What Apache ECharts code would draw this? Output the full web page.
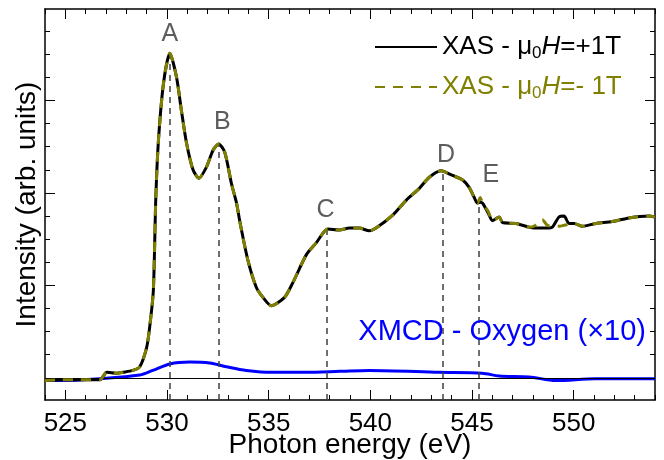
<!DOCTYPE html>
<html>
<head>
<meta charset="utf-8">
<script src="https://cdn.jsdelivr.net/npm/echarts@6/dist/echarts.min.js"></script>
<style>
  html, body { margin: 0; padding: 0; background: #fff; }
  #main { width: 664px; height: 460px; }
</style>
</head>
<body>
<div id="main"></div>
<script>
// XAS data
var energy = [524.0, 524.8, 525.6, 526.7, 527.04, 527.53, 527.83, 528.32, 528.66, 529.0, 529.17, 529.33, 529.45, 529.58, 529.83, 530.14, 530.47, 530.71, 530.96, 531.28, 531.57, 531.94, 532.26, 532.54, 532.84, 533.17, 533.41, 533.6, 533.98, 534.39, 534.72, 535.13, 535.78, 536.19, 536.85, 537.34, 537.91, 538.48, 538.97, 539.46, 539.95, 540.28, 541.1, 541.76, 542.41, 542.9, 543.47, 544.04, 544.54, 544.86, 545.11, 545.27, 545.4, 545.52, 545.8, 546.01, 546.34, 546.5, 547.16, 547.81, 548.05, 548.46, 548.7, 548.95, 549.28, 549.53, 549.77, 550.02, 550.43, 551.08, 551.9, 552.72, 553.7, 554.0];
var xasPlus = [-0.03, -0.02, -0.02, -0.02, 0.06, 0.05, 0.06, 0.08, 0.12, 0.33, 0.59, 0.95, 1.95, 2.57, 3.19, 3.51, 3.25, 2.89, 2.54, 2.25, 2.16, 2.28, 2.46, 2.53, 2.44, 2.1, 1.9, 1.67, 1.27, 0.98, 0.87, 0.78, 0.87, 1.03, 1.33, 1.46, 1.61, 1.6, 1.62, 1.62, 1.59, 1.62, 1.76, 1.92, 2.05, 2.17, 2.24, 2.19, 2.14, 2.06, 1.95, 1.89, 1.9, 1.89, 1.78, 1.7, 1.74, 1.68, 1.67, 1.63, 1.62, 1.62, 1.62, 1.63, 1.74, 1.75, 1.67, 1.67, 1.64, 1.67, 1.69, 1.73, 1.75, 1.74];
var xasMinus = [-0.03, -0.02, -0.02, -0.02, 0.06, 0.05, 0.06, 0.08, 0.12, 0.33, 0.59, 0.95, 1.95, 2.57, 3.19, 3.51, 3.25, 2.89, 2.54, 2.25, 2.16, 2.28, 2.46, 2.53, 2.44, 2.1, 1.9, 1.67, 1.27, 0.98, 0.87, 0.78, 0.87, 1.03, 1.33, 1.46, 1.61, 1.6, 1.62, 1.62, 1.59, 1.62, 1.76, 1.92, 2.05, 2.17, 2.24, 2.19, 2.14, 2.06, 1.95, 1.89, 1.95, 1.89, 1.8, 1.7, 1.74, 1.68, 1.67, 1.63, 1.64, 1.71, 1.65, 1.64, 1.64, 1.65, 1.66, 1.67, 1.64, 1.67, 1.69, 1.73, 1.75, 1.74];

// XMCD (x10)
var energyMcd = [524.0, 524.74, 526.7, 528.66, 529.3, 530.14, 531.12, 532.1, 532.92, 533.9, 535.19, 536.85, 538.48, 539.95, 543.39, 545.5, 546.34, 547.81, 549.12, 551.08, 554.0];
var xmcd = [-0.02, -0.03, -0.01, 0.03, 0.08, 0.15, 0.17, 0.16, 0.12, 0.08, 0.06, 0.06, 0.07, 0.08, 0.06, 0.05, 0.02, 0.01, -0.03, -0.01, -0.01];

// peaks
var peakNames = ['A', 'B', 'C', 'D', 'E'];
var peakEnergy = [530.14, 532.54, 537.88, 543.54, 545.35];
var peakTop = [3.51, 2.53, 1.61, 2.24, 1.92];
var labelEnergy = [530.14, 532.72, 537.8, 543.72, 545.93];
var labelY = [3.72, 2.77, 1.81, 2.41, 2.19];

// axes
var xMin = 524, xMax = 554;
var yMin = -0.24, yMax = 3.99;
var xMajor = [525, 530, 535, 540, 545, 550];
var xMinor = [];
for (var v = 524; v <= 554; v++) if (v % 5 !== 0) xMinor.push(v);
var yMajor = [0, 1, 2, 3];
var yMinor = [0.25, 0.5, 0.75, 1.25, 1.5, 1.75, 2.25, 2.5, 2.75, 3.25, 3.5, 3.75];

var FONT = 'Liberation Sans, Arial, sans-serif';

function pairs(xs, ys) {
    var out = [];
    for (var i = 0; i < xs.length; i++) out.push([xs[i], ys[i]]);
    return out;
}

function xAx(pos, ticks, len, main) {
    return {
        type: 'value', position: pos, min: xMin, max: xMax,
        axisLine: { show: main, onZero: false, lineStyle: { color: '#000', width: 1.5 } },
        axisTick: { show: true, inside: true, length: len, customValues: ticks, lineStyle: { color: '#000', width: 1 } },
        axisLabel: main && pos === 'bottom'
            ? { show: true, customValues: xMajor, fontSize: 26, color: '#000', fontFamily: FONT, margin: 11 }
            : { show: false },
        splitLine: { show: false },
        name: main && pos === 'bottom' ? 'Photon energy (eV)' : '',
        nameLocation: 'middle', nameGap: 31, nameMoveOverlap: false,
        nameTextStyle: { fontSize: 28, color: '#000', fontFamily: FONT }
    };
}

function yAx(pos, ticks, len, main) {
    return {
        type: 'value', position: pos, min: yMin, max: yMax,
        axisLine: { show: main, onZero: false, lineStyle: { color: '#000', width: 1.5 } },
        axisTick: { show: true, inside: true, length: len, customValues: ticks, lineStyle: { color: '#000', width: 1 } },
        axisLabel: { show: false },
        splitLine: { show: false },
        name: main && pos === 'left' ? 'Intensity (arb. units)' : '',
        nameLocation: 'middle', nameGap: 4,
        nameTextStyle: { fontSize: 28, color: '#000', fontFamily: FONT }
    };
}

var vlines = [];
for (var i = 0; i < peakNames.length; i++) {
    vlines.push([{ coord: [peakEnergy[i], yMin] }, { coord: [peakEnergy[i], peakTop[i]] }]);
}
var labels = [];
for (var j = 0; j < peakNames.length; j++) {
    labels.push({ name: peakNames[j], value: [labelEnergy[j], labelY[j]] });
}

var myChart = echarts.init(document.getElementById('main'));
var option = {
    animation: false,
    backgroundColor: '#fff',
    grid: { left: 45, right: 9, top: 9, bottom: 60, containLabel: false, outerBoundsMode: 'none' },
    title: {
        text: 'XMCD - Oxygen (\u00d710)',
        right: 18, top: 316, padding: 0,
        textStyle: { color: '#0000ff', fontSize: 29, fontWeight: 'normal', fontFamily: FONT, lineHeight: 32 }
    },
    legend: {
        data: ['plus', 'minus'],
        orient: 'vertical', left: 369, top: 27, itemGap: 10,
        itemWidth: 62, itemHeight: 14,
        itemStyle: { opacity: 0 },
        formatter: function (name) {
            if (name === 'plus') return '{a|XAS - \u03bc}{as|0}{ai|H}{a|=+1T}';
            return '{b|XAS - \u03bc}{bs|0}{bi|H}{b|=- 1T}';
        },
        textStyle: {
            fontFamily: FONT, fontSize: 26, lineHeight: 30,
            rich: {
                a: { color: '#000', fontSize: 26, fontFamily: FONT },
                as: { color: '#000', fontSize: 17, fontFamily: FONT, padding: [12, 0, 0, 0] },
                ai: { color: '#000', fontSize: 26, fontFamily: FONT, fontStyle: 'italic' },
                b: { color: '#808000', fontSize: 26, fontFamily: FONT },
                bs: { color: '#808000', fontSize: 17, fontFamily: FONT, padding: [12, 0, 0, 0] },
                bi: { color: '#808000', fontSize: 26, fontFamily: FONT, fontStyle: 'italic' }
            }
        }
    },
    xAxis: [
        xAx('bottom', xMajor, 10, true),
        xAx('bottom', xMinor, 5, false),
        xAx('top', xMajor, 10, true),
        xAx('top', xMinor, 5, false)
    ],
    yAxis: [
        yAx('left', yMajor, 10, true),
        yAx('left', yMinor, 5, false),
        yAx('right', yMajor, 10, true),
        yAx('right', yMinor, 5, false)
    ],
    series: [
        {
            name: 'peaks', type: 'scatter', symbolSize: 0, z: 1,
            data: labels,
            label: { show: true, position: 'inside', formatter: '{b}', color: '#333', fontSize: 25, fontFamily: FONT },
            markLine: {
                silent: true, symbol: 'none', animation: false,
                label: { show: false },
                lineStyle: { color: '#404040', width: 1.5, type: [6, 5] },
                data: vlines
            }
        },
        {
            name: 'xmcd', type: 'line', symbol: 'none', z: 3,
            data: pairs(energyMcd, xmcd),
            smooth: 0.3,
            lineStyle: { color: '#0000ff', width: 3 },
            itemStyle: { color: '#0000ff' },
            markLine: {
                silent: true, symbol: 'none', animation: false,
                label: { show: false },
                lineStyle: { color: '#000', width: 1, type: 'solid' },
                data: [{ yAxis: 0 }]
            }
        },
        {
            name: 'plus', type: 'line', symbol: 'none', z: 4,
            data: pairs(energy, xasPlus),
            smooth: 0.25,
            color: '#000',
            lineStyle: { color: '#000', width: 3 }
        },
        {
            name: 'minus', type: 'line', symbol: 'none', z: 5,
            data: pairs(energy, xasMinus),
            smooth: 0.25,
            color: '#808000',
            lineStyle: { color: '#808000', width: 3, type: [10, 8] }
        }
    ]
};
myChart.setOption(option);
</script>
</body>
</html>
